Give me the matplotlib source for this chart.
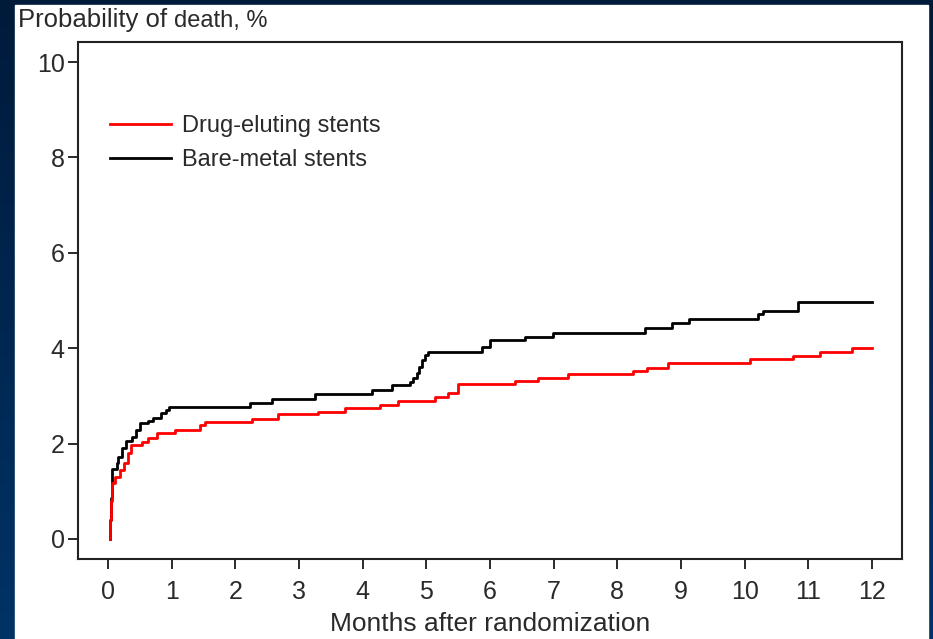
import numpy as np
import matplotlib
matplotlib.use('Agg')
import matplotlib.pyplot as plt
from matplotlib.patches import Rectangle
from matplotlib.colors import LinearSegmentedColormap

plt.rcParams['font.family'] = ['Liberation Sans', 'DejaVu Sans']

# Kaplan-Meier style cumulative mortality, months vs %
des_months = [0.03, 0.035, 0.045, 0.07, 0.11, 0.19, 0.25, 0.31, 0.36, 0.53, 0.63, 0.77,
              1.05, 1.45, 1.52, 2.26, 2.67, 3.3, 3.72, 4.27, 4.55, 5.14, 5.34, 5.5,
              6.39, 6.75, 7.22, 8.25, 8.47, 8.8, 10.08, 10.76, 11.18, 11.69, 12.0]
des_death = [0.0, 0.4, 0.8, 1.17, 1.3, 1.45, 1.6, 1.8, 1.97, 2.03, 2.12, 2.22,
             2.29, 2.39, 2.45, 2.52, 2.61, 2.67, 2.74, 2.8, 2.89, 2.98, 3.06, 3.24,
             3.31, 3.38, 3.46, 3.52, 3.58, 3.69, 3.77, 3.84, 3.91, 4.01, 4.01]

bms_months = [0.03, 0.035, 0.05, 0.06, 0.07, 0.14, 0.16, 0.22, 0.28, 0.38, 0.44, 0.5,
              0.63, 0.7, 0.84, 0.91, 0.96, 2.23, 2.58, 3.25, 4.15, 4.46, 4.74, 4.79,
              4.85, 4.89, 4.93, 4.98, 5.03, 5.87, 6.0, 6.55, 6.99, 8.43, 8.86, 9.12,
              10.21, 10.29, 10.84, 12.0]
bms_death = [0.0, 0.4, 0.86, 1.24, 1.47, 1.59, 1.72, 1.9, 2.05, 2.14, 2.29, 2.43,
             2.47, 2.54, 2.64, 2.7, 2.77, 2.86, 2.94, 3.03, 3.13, 3.23, 3.29, 3.37,
             3.48, 3.61, 3.75, 3.86, 3.92, 4.03, 4.17, 4.24, 4.32, 4.42, 4.53, 4.61,
             4.72, 4.78, 4.97, 4.97]

x_ticks = list(range(0, 13))
y_ticks = [0, 2, 4, 6, 8, 10]
labels = ['Drug-eluting stents', 'Bare-metal stents']

fig = plt.figure(figsize=(9.33, 6.39), dpi=100)

# dark blue slide background with a white panel on top
bg = fig.add_axes([0, 0, 1, 1])
grad = np.linspace(0, 1, 256).reshape(-1, 1)
cmap = LinearSegmentedColormap.from_list('slide', ['#001a3a', '#003366'])
bg.imshow(grad, aspect='auto', cmap=cmap, extent=[0, 1, 0, 1], origin='upper')
bg.add_patch(Rectangle((15 / 933, 0), 913 / 933, 1 - 5 / 639, color='white'))
bg.set_xlim(0, 1)
bg.set_ylim(0, 1)
bg.axis('off')

ax = fig.add_axes([0.0836, 0.1252, 0.8832, 0.8091])
l_bms, = ax.step(bms_months, bms_death, where='post', color='#000000', lw=2.0)
l_des, = ax.step(des_months, des_death, where='post', color='#ff0000', lw=2.0)

ax.set_xlim(-0.47, 12.47)
ax.set_ylim(-0.42, 10.42)
ax.set_xticks(x_ticks)
ax.set_yticks(y_ticks)
ax.tick_params(axis='both', direction='out', length=7, width=1.4, colors='#2a2a2a',
               labelsize=18)
ax.tick_params(axis='x', pad=8)
ax.tick_params(axis='y', pad=2.5)
for s in ax.spines.values():
    s.set_linewidth(1.5)
    s.set_color('#222222')

ax.set_xlabel('Months after randomization', fontsize=19, color='#2a2a2a', labelpad=6)

# y-axis title, second half set a touch smaller
t1 = fig.text(18 / 933, 1 - 27 / 639, 'Probability of ', fontsize=18.5,
              color='#2a2a2a', ha='left', va='baseline')
fig.canvas.draw()
bb = t1.get_window_extent()
fig.text(bb.x1 / fig.bbox.width, 1 - 27 / 639, 'death, %', fontsize=17,
         color='#2a2a2a', ha='left', va='baseline')

leg = ax.legend([l_des, l_bms], labels, loc='upper left', bbox_to_anchor=(0.0388, 0.858),
                frameon=False, fontsize=17, handlelength=2.6, handletextpad=0.47,
                labelspacing=0.5, borderpad=0, borderaxespad=0)
for t in leg.get_texts():
    t.set_color('#2a2a2a')

fig.savefig('out.png', dpi=100, facecolor=fig.get_facecolor())
